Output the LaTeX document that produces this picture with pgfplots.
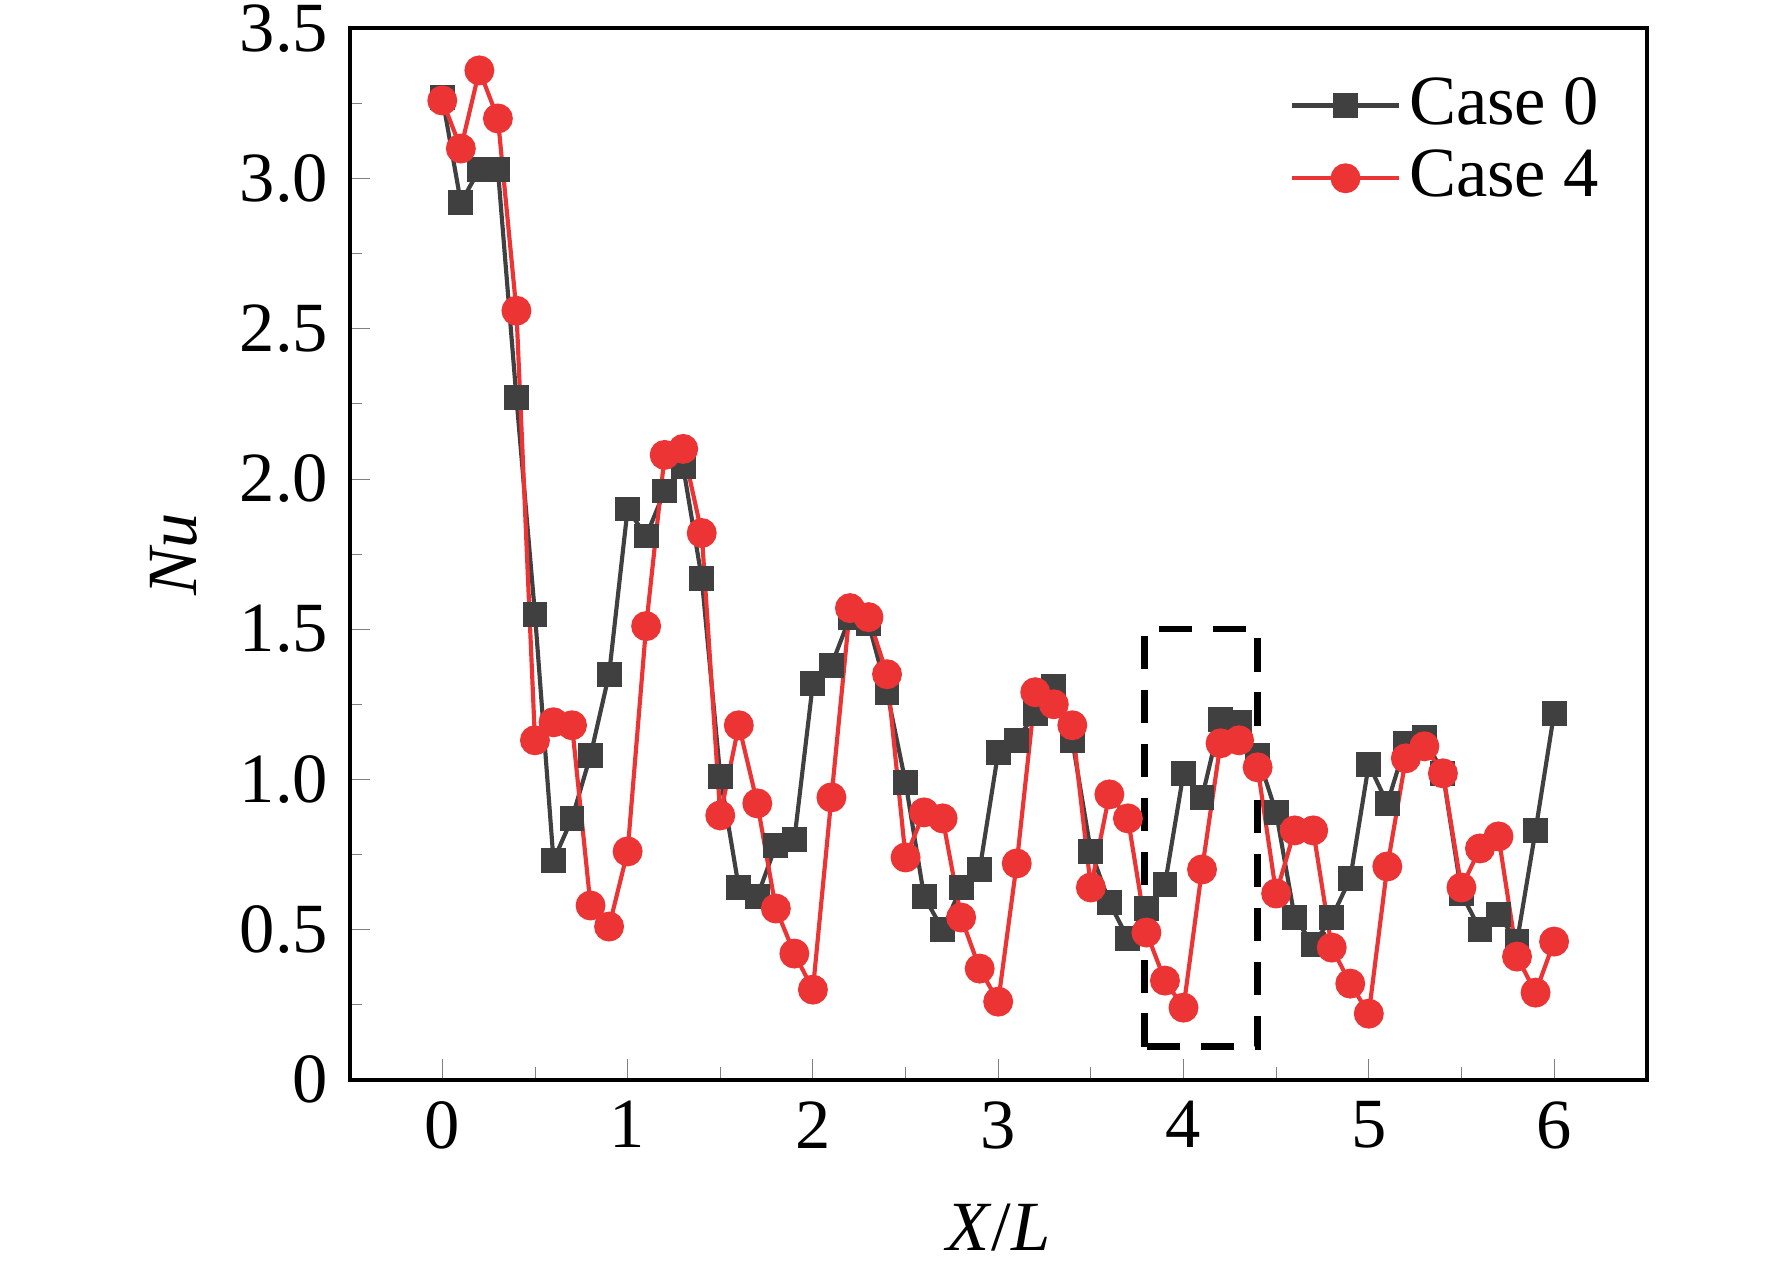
\documentclass[border=0pt]{standalone}
\usepackage{pgfplots}
\pgfplotsset{compat=1.18}
\usepackage{fontspec}
\setmainfont{Liberation Serif}
\definecolor{cz}{RGB}{64,64,64}
\definecolor{cf}{RGB}{236,52,52}
\begin{document}
\fontsize{15}{18}\selectfont
\begin{tikzpicture}
\useasboundingbox (-2.96,-1.56) rectangle (12.04,9.14);
\begin{axis}[
 scale only axis, width=10.98cm, height=8.9cm,
 xmin=-0.5, xmax=6.5, ymin=0, ymax=3.5,
 xtick={0,1,2,3,4,5,6}, ytick={0,0.5,1,1.5,2,2.5,3,3.5},
 yticklabels={0,0.5,1.0,1.5,2.0,2.5,3.0,3.5},
 minor tick num=1, tick align=inside,
 xtick pos=bottom, ytick pos=left,
 major tick length=5pt, minor tick length=3pt,
 /pgf/number format/assume math mode=true,
 ticklabel style={font=\fontsize{17}{20}\selectfont},
 xlabel={\textit{X}/\textit{L}}, ylabel={\textit{Nu}},
 label style={font=\fontsize{17}{20}\selectfont},
 xlabel style={yshift=-3pt},
 axis line style={line width=1pt},
 legend style={draw=none, fill=none, at={(0.98,0.97)}, anchor=north east, font=\fontsize{17}{20}\selectfont},
 legend cell align=left,
 legend image code/.code={\draw[#1, mark=none] (0cm,0cm) -- (0.9cm,0cm); \draw[#1, only marks] plot coordinates {(0.45cm,0cm)};},
]
\addplot[cz, line width=1pt, mark=square*, mark size=2.5pt] coordinates {
(0,3.27)(0.1,2.92)(0.2,3.03)(0.3,3.03)(0.4,2.27)(0.5,1.55)(0.6,0.73)(0.7,0.87)(0.8,1.08)(0.9,1.35)
(1.0,1.90)(1.1,1.81)(1.2,1.96)(1.3,2.04)(1.4,1.67)(1.5,1.01)(1.6,0.64)(1.7,0.61)(1.8,0.78)(1.9,0.80)
(2.0,1.32)(2.1,1.38)(2.2,1.54)(2.3,1.52)(2.4,1.29)(2.5,0.99)(2.6,0.61)(2.7,0.50)(2.8,0.64)(2.9,0.70)
(3.0,1.09)(3.1,1.13)(3.2,1.22)(3.3,1.31)(3.4,1.13)(3.5,0.76)(3.6,0.59)(3.7,0.47)(3.8,0.57)(3.9,0.65)
(4.0,1.02)(4.1,0.94)(4.2,1.20)(4.3,1.19)(4.4,1.08)(4.5,0.89)(4.6,0.54)(4.7,0.45)(4.8,0.54)(4.9,0.67)
(5.0,1.05)(5.1,0.92)(5.2,1.12)(5.3,1.14)(5.4,1.02)(5.5,0.62)(5.6,0.50)(5.7,0.55)(5.8,0.46)(5.9,0.83)(6.0,1.22)};
\addlegendentry{Case 0}
\addplot[cf, line width=1pt, mark=*, mark size=3.1pt] coordinates {
(0,3.26)(0.1,3.10)(0.2,3.36)(0.3,3.20)(0.4,2.56)(0.5,1.13)(0.6,1.19)(0.7,1.18)(0.8,0.58)(0.9,0.51)
(1.0,0.76)(1.1,1.51)(1.2,2.08)(1.3,2.10)(1.4,1.82)(1.5,0.88)(1.6,1.18)(1.7,0.92)(1.8,0.57)(1.9,0.42)
(2.0,0.30)(2.1,0.94)(2.2,1.57)(2.3,1.54)(2.4,1.35)(2.5,0.74)(2.6,0.89)(2.7,0.87)(2.8,0.54)(2.9,0.37)
(3.0,0.26)(3.1,0.72)(3.2,1.29)(3.3,1.25)(3.4,1.18)(3.5,0.64)(3.6,0.95)(3.7,0.87)(3.8,0.49)(3.9,0.33)
(4.0,0.24)(4.1,0.70)(4.2,1.12)(4.3,1.13)(4.4,1.04)(4.5,0.62)(4.6,0.83)(4.7,0.83)(4.8,0.44)(4.9,0.32)
(5.0,0.22)(5.1,0.71)(5.2,1.07)(5.3,1.11)(5.4,1.02)(5.5,0.64)(5.6,0.77)(5.7,0.81)(5.8,0.41)(5.9,0.29)(6.0,0.46)};
\addlegendentry{Case 4}
\draw[black, line width=1.6pt, dash pattern=on 8pt off 5pt] (axis cs:3.79,0.11) rectangle (axis cs:4.40,1.50);
\end{axis}
\end{tikzpicture}
\end{document}
